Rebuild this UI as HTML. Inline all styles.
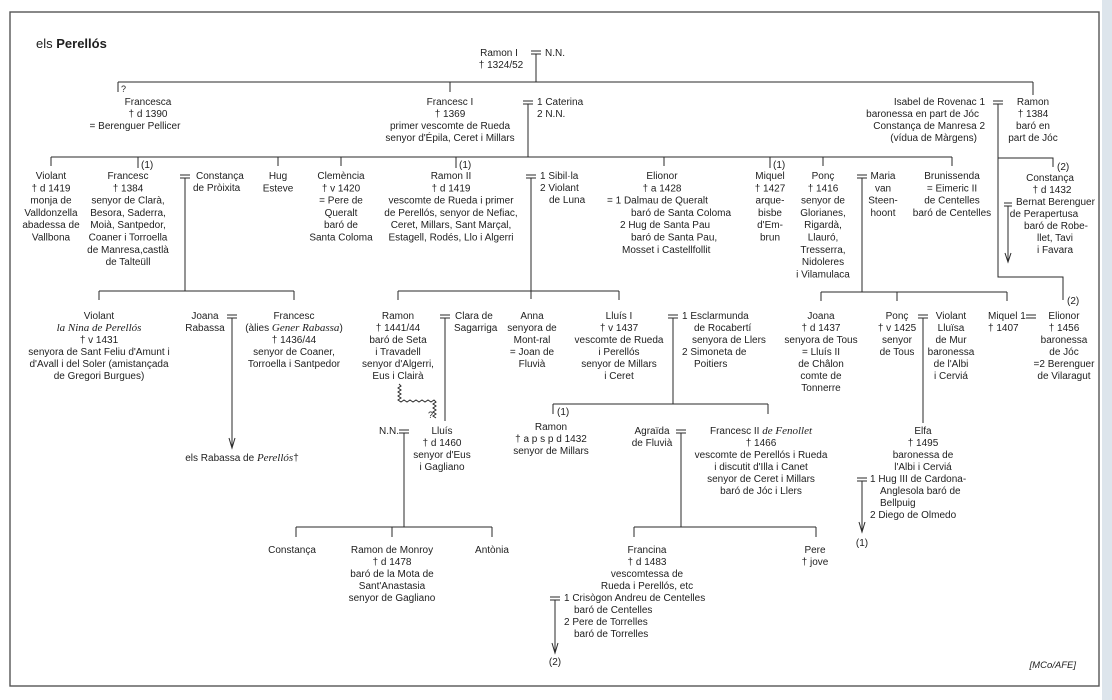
<!DOCTYPE html>
<html><head><meta charset="utf-8">
<style>
html,body{margin:0;padding:0;background:#fff;}
svg{display:block;}
text{font-family:"Liberation Sans",Arial,sans-serif;font-size:10px;fill:#1e1e1e;}
.c{text-anchor:middle}.e{text-anchor:end}
.i{font-family:"Liberation Serif",serif;font-style:italic;font-size:11px}
line,polyline,path{stroke:#2a2a2a;stroke-width:1;fill:none}
</style></head><body>
<svg width="1112" height="700" viewBox="0 0 1112 700" xmlns="http://www.w3.org/2000/svg">
<rect x="1102" y="0" width="10" height="700" fill="#dde5ec" stroke="none"/>
<rect x="10" y="12" width="1089" height="674" fill="#fff" stroke="#555" stroke-width="1.4"/>

<text x="36" y="48" style="font-size:13px">els <tspan font-weight="bold">Perellós</tspan></text>

<!-- Ramon I -->
<text x="499" y="56" class="c">Ramon I</text>
<text x="501" y="68" class="c">† 1324/52</text>
<line x1="531" y1="51" x2="541" y2="51"/><line x1="531" y1="54" x2="541" y2="54"/>
<line x1="536" y1="54" x2="536" y2="82"/>
<text x="545" y="56">N.N.</text>
<line x1="118" y1="82" x2="1033" y2="82"/>
<line x1="118" y1="82" x2="118" y2="92"/><text x="121" y="92" style="font-size:9px">?</text>
<line x1="450" y1="82" x2="450" y2="92"/>
<line x1="1033" y1="82" x2="1033" y2="95"/>

<!-- Francesca -->
<text class="c"><tspan x="148" y="105">Francesca</tspan><tspan x="148" dy="12">† d 1390</tspan><tspan x="135" dy="12">= Berenguer Pellicer</tspan></text>
<!-- Francesc I -->
<text class="c"><tspan x="450" y="105">Francesc I</tspan><tspan x="450" dy="12">† 1369</tspan><tspan x="450" dy="12">primer vescomte de Rueda</tspan><tspan x="450" dy="12">senyor d'Épila, Ceret i Millars</tspan></text>
<line x1="523" y1="101" x2="533" y2="101"/><line x1="523" y1="104" x2="533" y2="104"/>
<line x1="528" y1="104" x2="528" y2="157"/>
<text x="537" y="105">1 Caterina</text><text x="537" y="117">2 N.N.</text>

<!-- Isabel / Ramon -->
<text class="e"><tspan x="985" y="105">Isabel de Rovenac 1</tspan><tspan x="979" dy="12">baronessa en part de Jóc</tspan><tspan x="985" dy="12">Constança de Manresa 2</tspan><tspan x="977" dy="12">(vídua de Màrgens)</tspan></text>
<line x1="993" y1="101" x2="1003" y2="101"/><line x1="993" y1="104" x2="1003" y2="104"/>
<polyline points="998,104 998,277 1063,277 1063,300"/>
<text x="1067" y="304">(2)</text>
<text class="c"><tspan x="1033" y="105">Ramon</tspan><tspan x="1033" dy="12">† 1384</tspan><tspan x="1033" dy="12">baró en</tspan><tspan x="1033" dy="12">part de Jóc</tspan></text>
<polyline points="998,158 1053,158 1053,167"/>
<text x="1057" y="170">(2)</text>
<text class="c"><tspan x="1050" y="181">Constança</tspan><tspan x="1052" dy="12">† d 1432</tspan></text>
<line x1="1004" y1="203" x2="1012" y2="203"/><line x1="1004" y1="206" x2="1012" y2="206"/>
<line x1="1008" y1="206" x2="1008" y2="261"/><path d="M1005,253 L1008,262 L1011,253" fill="#222" stroke="none"/>
<text x="1016" y="205">Bernat Berenguer</text>
<text class="c"><tspan x="1044" y="217">de Perapertusa</tspan><tspan x="1056" dy="12">baró de Robe-</tspan><tspan x="1055" dy="12">llet, Tavi</tspan><tspan x="1055" dy="12">i Favara</tspan></text>

<!-- Gen 2 line -->
<line x1="51" y1="157" x2="952" y2="157"/>
<line x1="51" y1="157" x2="51" y2="166"/>
<line x1="138" y1="157" x2="138" y2="168"/><text x="141" y="168">(1)</text>
<line x1="278" y1="157" x2="278" y2="166"/>
<line x1="341" y1="157" x2="341" y2="166"/>
<line x1="456" y1="157" x2="456" y2="168"/><text x="459" y="168">(1)</text>
<line x1="664" y1="157" x2="664" y2="166"/>
<line x1="770" y1="157" x2="770" y2="168"/><text x="773" y="168">(1)</text>
<line x1="823" y1="157" x2="823" y2="166"/>
<line x1="952" y1="157" x2="952" y2="166"/>

<text class="c"><tspan x="51" y="179">Violant</tspan><tspan x="51" dy="12.3">† d 1419</tspan><tspan x="51" dy="12.3">monja de</tspan><tspan x="51" dy="12.3">Valldonzella</tspan><tspan x="51" dy="12.3">abadessa de</tspan><tspan x="51" dy="12.3">Vallbona</tspan></text>
<text class="c"><tspan x="128" y="179">Francesc</tspan><tspan x="128" dy="12.3">† 1384</tspan><tspan x="128" dy="12.3">senyor de Clarà,</tspan><tspan x="128" dy="12.3">Besora, Saderra,</tspan><tspan x="128" dy="12.3">Moià, Santpedor,</tspan><tspan x="128" dy="12.3">Coaner i Torroella</tspan><tspan x="128" dy="12.3">de Manresa,castlà</tspan><tspan x="128" dy="12.3">de Talteüll</tspan></text>
<line x1="180" y1="175" x2="190" y2="175"/><line x1="180" y1="178" x2="190" y2="178"/>
<line x1="185" y1="178" x2="185" y2="291"/>
<text x="196" y="179">Constança</text><text x="193" y="191">de Pròixita</text>
<text class="c"><tspan x="278" y="179">Hug</tspan><tspan x="278" dy="12.3">Esteve</tspan></text>
<text class="c"><tspan x="341" y="179">Clemència</tspan><tspan x="341" dy="12.3">† v 1420</tspan><tspan x="341" dy="12.3">= Pere de</tspan><tspan x="341" dy="12.3">Queralt</tspan><tspan x="341" dy="12.3">baró de</tspan><tspan x="341" dy="12.3">Santa Coloma</tspan></text>
<text class="c"><tspan x="451" y="179">Ramon II</tspan><tspan x="451" dy="12.3">† d 1419</tspan><tspan x="451" dy="12.3">vescomte de Rueda i primer</tspan><tspan x="451" dy="12.3">de Perellós, senyor de Nefiac,</tspan><tspan x="451" dy="12.3">Ceret, Millars, Sant Marçal,</tspan><tspan x="451" dy="12.3">Estagell, Rodés, Llo i Algerri</tspan></text>
<line x1="526" y1="175" x2="536" y2="175"/><line x1="526" y1="178" x2="536" y2="178"/>
<line x1="531" y1="178" x2="531" y2="299"/>
<text x="540" y="179">1 Sibil·la</text><text x="540" y="191">2 Violant</text><text x="549" y="203">de Luna</text>
<text class="c"><tspan x="662" y="179">Elionor</tspan><tspan x="662" dy="12.3">† a 1428</tspan></text>
<text x="607" y="203.6">= 1 Dalmau de Queralt</text>
<text x="631" y="215.9">baró de Santa Coloma</text>
<text x="620" y="228.2">2 Hug de Santa Pau</text>
<text x="631" y="240.5">baró de Santa Pau,</text>
<text x="622" y="252.8">Mosset i Castellfollit</text>
<text class="c"><tspan x="770" y="179">Miquel</tspan><tspan x="770" dy="12.3">† 1427</tspan><tspan x="770" dy="12.3">arque-</tspan><tspan x="770" dy="12.3">bisbe</tspan><tspan x="770" dy="12.3">d'Em-</tspan><tspan x="770" dy="12.3">brun</tspan></text>
<text class="c"><tspan x="823" y="179">Ponç</tspan><tspan x="823" dy="12.3">† 1416</tspan><tspan x="823" dy="12.3">senyor de</tspan><tspan x="823" dy="12.3">Glorianes,</tspan><tspan x="823" dy="12.3">Rigardà,</tspan><tspan x="823" dy="12.3">Llauró,</tspan><tspan x="823" dy="12.3">Tresserra,</tspan><tspan x="823" dy="12.3">Nidoleres</tspan><tspan x="823" dy="12.3">i Vilamulaca</tspan></text>
<line x1="857" y1="175" x2="867" y2="175"/><line x1="857" y1="178" x2="867" y2="178"/>
<line x1="862" y1="178" x2="862" y2="292"/>
<text class="c"><tspan x="883" y="179">Maria</tspan><tspan x="883" dy="12.3">van</tspan><tspan x="883" dy="12.3">Steen-</tspan><tspan x="883" dy="12.3">hoont</tspan></text>
<text class="c"><tspan x="952" y="179">Brunissenda</tspan><tspan x="952" dy="12.3">= Eimeric II</tspan><tspan x="952" dy="12.3">de Centelles</tspan><tspan x="952" dy="12.3">baró de Centelles</tspan></text>

<!-- Gen 3 -->
<line x1="99" y1="291" x2="294" y2="291"/>
<line x1="99" y1="291" x2="99" y2="300"/><line x1="294" y1="291" x2="294" y2="300"/>
<line x1="398" y1="291" x2="619" y2="291"/>
<line x1="398" y1="291" x2="398" y2="300"/><line x1="619" y1="291" x2="619" y2="300"/>
<line x1="821" y1="292" x2="1007" y2="292"/>
<line x1="821" y1="292" x2="821" y2="301"/><line x1="897" y1="292" x2="897" y2="301"/><line x1="1007" y1="292" x2="1007" y2="301"/>

<text class="c"><tspan x="99" y="319">Violant</tspan></text>
<text x="99" y="331" class="c i">la Nina de Perellós</text>
<text class="c"><tspan x="99" y="343">† v 1431</tspan><tspan x="99" dy="12">senyora de Sant Feliu d'Amunt i</tspan><tspan x="99" dy="12">d'Avall i del Soler (amistançada</tspan><tspan x="99" dy="12">de Gregori Burgues)</tspan></text>
<text class="c"><tspan x="205" y="319">Joana</tspan><tspan x="205" dy="12">Rabassa</tspan></text>
<line x1="227" y1="315" x2="237" y2="315"/><line x1="227" y1="318" x2="237" y2="318"/>
<line x1="232" y1="318" x2="232" y2="446"/><path d="M229,438 L232,448 L235,438" fill="#222" stroke="none"/>
<text class="c"><tspan x="294" y="319">Francesc</tspan><tspan x="294" dy="12">(àlies <tspan class="i">Gener Rabassa</tspan>)</tspan><tspan x="294" dy="12">† 1436/44</tspan><tspan x="294" dy="12">senyor de Coaner,</tspan><tspan x="294" dy="12">Torroella i Santpedor</tspan></text>
<text x="242" y="461" class="c">els Rabassa de <tspan class="i">Perellós</tspan>†</text>

<text class="c"><tspan x="398" y="319">Ramon</tspan><tspan x="398" dy="12">† 1441/44</tspan><tspan x="398" dy="12">baró de Seta</tspan><tspan x="398" dy="12">i Travadell</tspan><tspan x="398" dy="12">senyor d'Algerri,</tspan><tspan x="398" dy="12">Eus i Clairà</tspan></text>
<line x1="440" y1="315" x2="450" y2="315"/><line x1="440" y1="318" x2="450" y2="318"/>
<line x1="445" y1="318" x2="445" y2="421"/>
<text x="455" y="319">Clara de</text><text x="454" y="331">Sagarriga</text>
<path d="M399,384 l2,2 l-3,2 l3,2 l-3,2 l3,2 l-3,2 l3,2 l-3,2 l3,2 l3,-2 l3,2 l3,-2 l3,2 l3,-2 l3,2 l3,-2 l3,2 l3,-2 l3,2 l3,-2 l2,2 l-3,2 l3,2 l-3,2 l3,2 l-3,2 l3,2 l-3,2 l3,2"/>
<text x="428" y="418" style="font-size:9px">?</text>
<text class="c"><tspan x="532" y="319">Anna</tspan><tspan x="532" dy="12">senyora de</tspan><tspan x="532" dy="12">Mont-ral</tspan><tspan x="532" dy="12">= Joan de</tspan><tspan x="532" dy="12">Fluvià</tspan></text>
<text class="c"><tspan x="619" y="319">Lluís I</tspan><tspan x="619" dy="12">† v 1437</tspan><tspan x="619" dy="12">vescomte de Rueda</tspan><tspan x="619" dy="12">i Perellós</tspan><tspan x="619" dy="12">senyor de Millars</tspan><tspan x="619" dy="12">i Ceret</tspan></text>
<line x1="668" y1="315" x2="678" y2="315"/><line x1="668" y1="318" x2="678" y2="318"/>
<line x1="673" y1="318" x2="673" y2="404"/>
<text x="682" y="319">1 Esclarmunda</text><text x="694" y="331">de Rocabertí</text><text x="692" y="343">senyora de Llers</text><text x="682" y="355">2 Simoneta de</text><text x="694" y="367">Poitiers</text>
<text class="c"><tspan x="821" y="319">Joana</tspan><tspan x="821" dy="12">† d 1437</tspan><tspan x="821" dy="12">senyora de Tous</tspan><tspan x="821" dy="12">= Lluís II</tspan><tspan x="821" dy="12">de Châlon</tspan><tspan x="821" dy="12">comte de</tspan><tspan x="821" dy="12">Tonnerre</tspan></text>
<text class="c"><tspan x="897" y="319">Ponç</tspan><tspan x="897" dy="12">† v 1425</tspan><tspan x="897" dy="12">senyor</tspan><tspan x="897" dy="12">de Tous</tspan></text>
<line x1="918" y1="315" x2="928" y2="315"/><line x1="918" y1="318" x2="928" y2="318"/>
<line x1="923" y1="318" x2="923" y2="423"/>
<text class="c"><tspan x="951" y="319">Violant</tspan><tspan x="951" dy="12">Lluïsa</tspan><tspan x="951" dy="12">de Mur</tspan><tspan x="951" dy="12">baronessa</tspan><tspan x="951" dy="12">de l'Albi</tspan><tspan x="951" dy="12">i Cerviá</tspan></text>
<text x="988" y="319">Miquel 1</text><text x="988" y="331">† 1407</text>
<line x1="1026" y1="315" x2="1036" y2="315"/><line x1="1026" y1="318" x2="1036" y2="318"/>
<text class="c"><tspan x="1064" y="319">Elionor</tspan><tspan x="1064" dy="12">† 1456</tspan><tspan x="1064" dy="12">baronessa</tspan><tspan x="1064" dy="12">de Jóc</tspan><tspan x="1064" dy="12">=2 Berenguer</tspan><tspan x="1064" dy="12">de Vilaragut</tspan></text>

<!-- Gen 4 -->
<line x1="553" y1="404" x2="768" y2="404"/>
<line x1="553" y1="404" x2="553" y2="414"/><text x="557" y="415">(1)</text>
<line x1="768" y1="404" x2="768" y2="414"/>
<text class="c"><tspan x="551" y="430">Ramon</tspan><tspan x="551" dy="12">† a p s p d 1432</tspan><tspan x="551" dy="12">senyor de Millars</tspan></text>
<text x="389" y="434" class="c">N.N.</text>
<line x1="399" y1="430" x2="409" y2="430"/><line x1="399" y1="433" x2="409" y2="433"/>
<line x1="404" y1="433" x2="404" y2="527"/>
<text class="c"><tspan x="442" y="434">Lluís</tspan><tspan x="442" dy="12">† d 1460</tspan><tspan x="442" dy="12">senyor d'Eus</tspan><tspan x="442" dy="12">i Gagliano</tspan></text>
<text class="c"><tspan x="652" y="434">Agraïda</tspan><tspan x="652" dy="12">de Fluvià</tspan></text>
<line x1="676" y1="430" x2="686" y2="430"/><line x1="676" y1="433" x2="686" y2="433"/>
<line x1="681" y1="433" x2="681" y2="527"/>
<text class="c"><tspan x="761" y="434">Francesc II <tspan class="i">de Fenollet</tspan></tspan><tspan x="761" dy="12">† 1466</tspan><tspan x="761" dy="12">vescomte de Perellós i Rueda</tspan><tspan x="761" dy="12">i discutit d'Illa i Canet</tspan><tspan x="761" dy="12">senyor de Ceret i Millars</tspan><tspan x="761" dy="12">baró de Jóc i Llers</tspan></text>
<text class="c"><tspan x="923" y="434">Elfa</tspan><tspan x="923" dy="12">† 1495</tspan><tspan x="923" dy="12">baronessa de</tspan><tspan x="923" dy="12">l'Albi i Cerviá</tspan></text>
<line x1="857" y1="478" x2="867" y2="478"/><line x1="857" y1="481" x2="867" y2="481"/>
<line x1="862" y1="481" x2="862" y2="530"/><path d="M859,522 L862,532 L865,522" fill="#222" stroke="none"/>
<text x="870" y="482">1 Hug III de Cardona-</text><text x="880" y="494">Anglesola baró de</text><text x="880" y="506">Bellpuig</text><text x="870" y="518">2 Diego de Olmedo</text>
<text x="862" y="546" class="c">(1)</text>

<!-- Gen 5 -->
<line x1="296" y1="527" x2="492" y2="527"/>
<line x1="296" y1="527" x2="296" y2="537"/><line x1="392" y1="527" x2="392" y2="537"/><line x1="492" y1="527" x2="492" y2="537"/>
<text x="292" y="553" class="c">Constança</text>
<text class="c"><tspan x="392" y="553">Ramon de Monroy</tspan><tspan x="392" dy="12">† d 1478</tspan><tspan x="392" dy="12">baró de la Mota de</tspan><tspan x="392" dy="12">Sant'Anastasia</tspan><tspan x="392" dy="12">senyor de Gagliano</tspan></text>
<text x="492" y="553" class="c">Antònia</text>
<line x1="634" y1="527" x2="816" y2="527"/>
<line x1="634" y1="527" x2="634" y2="537"/><line x1="816" y1="527" x2="816" y2="537"/>
<text class="c"><tspan x="647" y="553">Francina</tspan><tspan x="647" dy="12">† d 1483</tspan><tspan x="647" dy="12">vescomtessa de</tspan><tspan x="647" dy="12">Rueda i Perellós, etc</tspan></text>
<line x1="550" y1="597" x2="560" y2="597"/><line x1="550" y1="600" x2="560" y2="600"/>
<line x1="555" y1="600" x2="555" y2="651"/><path d="M552,643 L555,653 L558,643" fill="#222" stroke="none"/>
<text x="564" y="601">1 Crisògon Andreu de Centelles</text><text x="574" y="613">baró de Centelles</text><text x="564" y="625">2 Pere de Torrelles</text><text x="574" y="637">baró de Torrelles</text>
<text x="555" y="665" class="c">(2)</text>
<text class="c"><tspan x="815" y="553">Pere</tspan><tspan x="815" dy="12">† jove</tspan></text>

<text x="1076" y="668" class="e" style="font-style:italic;font-size:9.5px">[MCo/AFE]</text>
</svg>
</body></html>
